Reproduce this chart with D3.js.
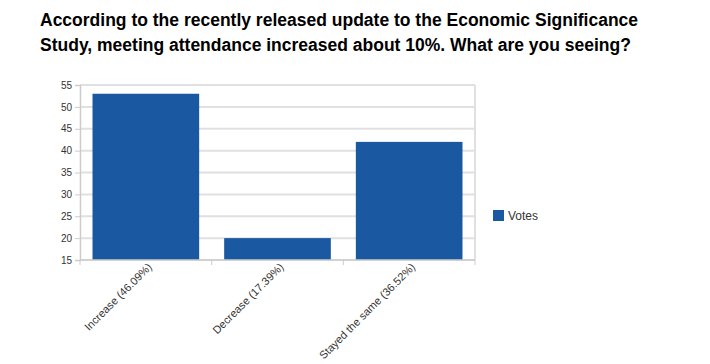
<!DOCTYPE html>
<html>
<head>
<meta charset="utf-8">
<script src="https://cdn.jsdelivr.net/npm/d3@7"></script>
<style>
  body { margin: 0; background: #fff; }
  text { font-family: Arial, "Liberation Sans", sans-serif; }
</style>
</head>
<body>
<script>
let svgWidth = 710;
let svgHeight = 364;

let titleLines = [
    "According to the recently released update to the Economic Significance",
    "Study, meeting attendance increased about 10%. What are you seeing?"
];
let categories = ["Increase (46.09%)", "Decrease (17.39%)", "Stayed the same (36.52%)"];
let votes = [53, 20, 42];
let yTicks = [15, 20, 25, 30, 35, 40, 45, 50, 55];
let seriesName = "Votes";

let margin = { top: 85, right: 235, bottom: 104, left: 80 };
let chartWidth = svgWidth - margin.left - margin.right;
let chartHeight = svgHeight - margin.top - margin.bottom;

let svg = d3.select("body")
    .append("svg")
    .attr("width", svgWidth)
    .attr("height", svgHeight);

// Title
let title = svg.append("g");
titleLines.forEach(function(line, i) {
    title.append("text")
        .attr("x", 40)
        .attr("y", 26 + i * 25)
        .attr("font-size", 17.5)
        .attr("font-weight", "bold")
        .attr("fill", "#000")
        .text(line);
});

let chartGroup = svg.append("g")
    .attr("transform", `translate(${margin.left}, ${margin.top})`);

let xBandScale = d3.scaleBand()
    .domain(categories)
    .range([0, chartWidth])
    .paddingInner(0.19)
    .paddingOuter(0.095);

let yLinearScale = d3.scaleLinear()
    .domain([15, 55])
    .range([chartHeight, 0]);

// Grid
chartGroup.append("g")
    .selectAll("line")
    .data(yTicks)
    .join("line")
    .attr("x1", 0)
    .attr("x2", chartWidth)
    .attr("y1", d => yLinearScale(d))
    .attr("y2", d => yLinearScale(d))
    .attr("stroke", "#e0e0e0")
    .attr("stroke-width", 2);

chartGroup.append("line")
    .attr("x1", chartWidth).attr("x2", chartWidth)
    .attr("y1", 0).attr("y2", chartHeight)
    .attr("stroke", "#e0e0e0")
    .attr("stroke-width", 2);

// Bars
chartGroup.append("g")
    .selectAll("rect")
    .data(votes)
    .join("rect")
    .attr("x", (d, i) => xBandScale(categories[i]))
    .attr("width", xBandScale.bandwidth())
    .attr("y", d => yLinearScale(d))
    .attr("height", d => chartHeight - yLinearScale(d))
    .attr("fill", "#1a58a2");

// Y Axis
let leftAxis = d3.axisLeft(yLinearScale)
    .tickValues(yTicks)
    .tickSize(5)
    .tickPadding(3);

let yAxis = chartGroup.append("g").call(leftAxis);
yAxis.select(".domain").attr("stroke", "#ccc").attr("stroke-width", 1.5);
yAxis.selectAll(".tick line").attr("stroke", "#ccc");
yAxis.selectAll(".tick text")
    .attr("font-size", 10)
    .attr("fill", "#333");

// X Axis
let boundaries = d3.range(categories.length + 1).map(i => i * chartWidth / categories.length);
let xAxis = chartGroup.append("g")
    .attr("transform", `translate(0, ${chartHeight})`);
xAxis.append("line")
    .attr("x1", 0).attr("x2", chartWidth)
    .attr("stroke", "#ccc")
    .attr("stroke-width", 1.5);
xAxis.selectAll(".bt")
    .data(boundaries)
    .join("line")
    .attr("class", "bt")
    .attr("x1", d => d).attr("x2", d => d)
    .attr("y1", 0).attr("y2", 5)
    .attr("stroke", "#ccc");

xAxis.selectAll(".lab")
    .data(categories)
    .join("text")
    .attr("class", "lab")
    .attr("transform", d => `translate(${xBandScale(d) + xBandScale.bandwidth() / 2 + 4}, 5) rotate(-45)`)
    .attr("text-anchor", "end")
    .attr("dy", "0.35em")
    .attr("font-size", 11)
    .attr("fill", "#333")
    .text(d => d);

// Legend
let legend = svg.append("g")
    .attr("transform", "translate(493, 210)");
legend.append("rect")
    .attr("width", 11)
    .attr("height", 11)
    .attr("fill", "#1a58a2");
legend.append("text")
    .attr("x", 15)
    .attr("y", 10)
    .attr("font-size", 12)
    .attr("fill", "#333")
    .text(seriesName);
</script>
</body>
</html>
